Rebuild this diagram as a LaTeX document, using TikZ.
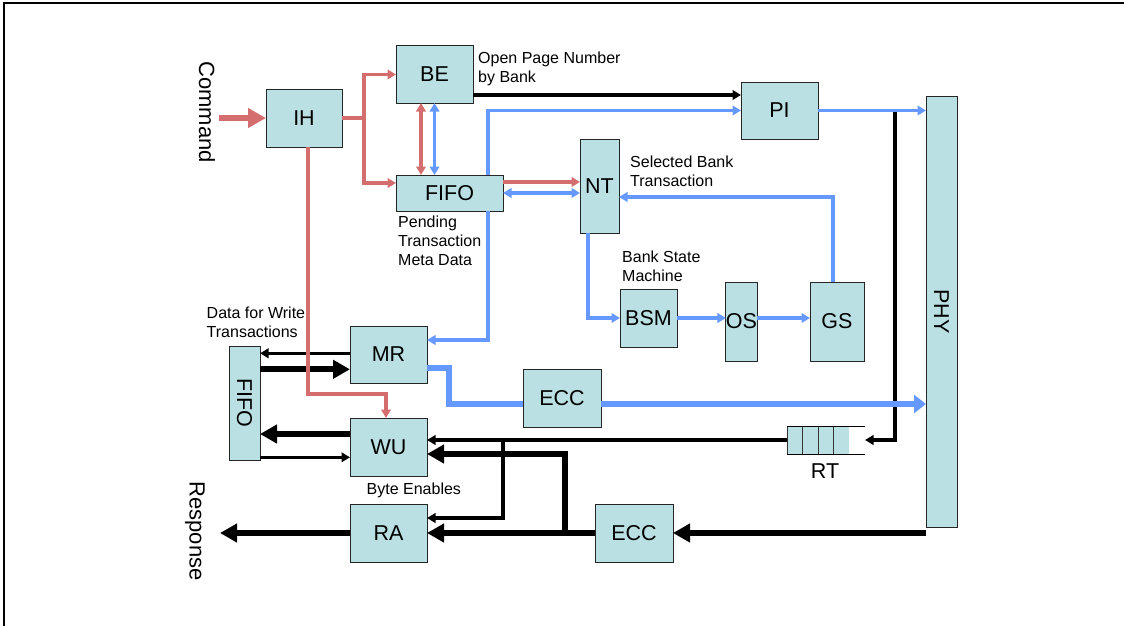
\documentclass[tikz,border=0pt]{standalone}
\usepackage{fontspec}
\setmainfont{Liberation Sans}
\usepackage{graphicx}
\usetikzlibrary{arrows.meta,calc}
\definecolor{boxfill}{RGB}{186,224,227}
\definecolor{redc}{RGB}{212,110,110}
\definecolor{bluec}{RGB}{102,153,255}
\begin{document}
\begin{tikzpicture}[x=1pt,y=-1pt,
  box/.style={draw=black!85, line width=1pt, fill=boxfill, inner sep=0pt, outer sep=0pt, font=\fontsize{21.5}{25}\selectfont},
  lbl/.style={font=\fontsize{16}{19}\selectfont, align=left, inner sep=0pt, anchor=north west},
  big/.style={font=\fontsize{22}{26}\selectfont, inner sep=0pt, rotate=-90},
  tipS/.style={-{Triangle[length=8.5pt,width=9.5pt]}},
  dbl/.style={{Triangle[length=8.5pt,width=9.5pt]}-{Triangle[length=8.5pt,width=9.5pt]}},
  tn/.style={draw=black, line width=3.2pt, tipS},
  tk/.style={draw=black, line width=6.3pt, -{Triangle[length=17pt,width=18pt]}},
  rd/.style={draw=redc, line width=3.3pt},
  bl/.style={draw=bluec, line width=3.3pt},
  bk/.style={draw=bluec, line width=6pt},
]
\useasboundingbox (0,0) rectangle (1124,626);
% frame
\draw[line width=2pt] (3.5,626) -- (3.5,3.5) -- (1124,3.5);

% boxes
\node[box, minimum width=76pt, minimum height=58pt] (IH) at (304,118) {IH};
\node[box, minimum width=77pt, minimum height=57pt] (BE) at (434.5,74.5) {BE};
\node[box, minimum width=107pt, minimum height=36pt] (FIFO1) at (449.5,193) {FIFO};
\node[box, minimum width=77pt, minimum height=57pt] (PI) at (779.5,110.5) {PI};
\node[box, minimum width=39pt, minimum height=94pt] (NT) at (599.5,186) {NT};
\node[box, minimum width=57pt, minimum height=58pt] (BSM) at (648.5,318) {BSM};
\node[box, minimum width=31pt, minimum height=79pt] (OS) at (741.5,321.5) {OS};
\node[box, minimum width=54pt, minimum height=79pt] (GS) at (837,321.5) {GS};
\node[box, minimum width=31pt, minimum height=431pt] (PHY) at (941.5,311.5) {\rotatebox{-90}{PHY}};
\node[box, minimum width=78pt, minimum height=58pt] (ECC1) at (562,398) {ECC};
\node[box, minimum width=77pt, minimum height=57pt] (MR) at (388.5,354.5) {MR};
\node[box, minimum width=77pt, minimum height=58pt] (WU) at (388.5,447) {WU};
\node[box, minimum width=31pt, minimum height=114pt] (FIFO2) at (244.5,403) {\rotatebox{-90}{FIFO}};
\node[box, minimum width=77pt, minimum height=58pt] (RA) at (388.5,533) {RA};
\node[box, minimum width=78pt, minimum height=58pt] (ECC2) at (634,533) {ECC};

% RT queue
\node[inner sep=0pt, outer sep=0pt, minimum width=78pt, minimum height=28pt] (RT) at (826,440) {};
\fill[boxfill] (RT.north west) rectangle ($(RT.south east)+(-16,0)$);
\draw[black!80, line width=1pt] (RT.north west) -- (RT.south west)
  ($(RT.north west)+(15.5,0)$) -- ($(RT.south west)+(15.5,0)$)
  ($(RT.north west)+(31,0)$) -- ($(RT.south west)+(31,0)$)
  ($(RT.north west)+(46.5,0)$) -- ($(RT.south west)+(46.5,0)$);
\draw[black, line width=1pt] (RT.north west) -- (RT.north east) (RT.south west) -- (RT.south east);
\node[font=\fontsize{21.5}{25}\selectfont, inner sep=0pt] (lRT) at (825,471) {RT};

% labels
\node[big] (cmdtxt) at (207,112) {Command};
\node[big] (resptxt) at (195,531) {Response};
\node[lbl] (lOpen) at (478,51.5) {Open Page Number\\by Bank};
\node[lbl] (lPend) at (398,215.5) {Pending\\Transaction\\Meta Data};
\node[lbl] (lSel) at (630,155.5) {Selected Bank\\Transaction};
\node[lbl] (lBSM) at (622,251) {Bank State\\Machine};
\node[lbl] (lData) at (206.5,306.5) {Data for Write\\Transactions};
\node[lbl] (lByte) at (366.5,482.5) {Byte Enables};

% Command input
\coordinate (cmd) at (219,118);
\draw[draw=redc, line width=6pt, -{Triangle[length=18pt,width=19pt]}] (cmd) -- (IH.west);

% IH to BE / FIFO
\draw[rd] (IH.east) -- ++(22,0) coordinate (sp);
\draw[rd,tipS] (sp) |- (BE.west);
\draw[rd,tipS] (sp) |- ($(FIFO1.west)+(0,-10)$);

% BE <-> FIFO
\draw[rd,dbl] ($(BE.south)+(-13.5,0)$) -- ($(FIFO1.north)+(-28.5,0)$);
\draw[bl,dbl] (BE.south) -- (BE.south |- FIFO1.north);

% BE -> PI
\coordinate (beo) at ($(BE.east)+(0,20.5)$);
\draw[tn] (beo) -- (beo -| PI.west);

% FIFO -> PI, FIFO -> MR
\draw[bl,tipS] ($(FIFO1.north)+(38.5,0)$) |- (PI.west);
\draw[bl,tipS] ($(FIFO1.south)+(38.5,0)$) |- ($(MR.east)+(0,-14.5)$);

% RT feed from PHY side
\coordinate (tapA) at (895,110.5);
\draw[tn] (tapA) |- (RT.east);

% PI -> PHY
\draw[bl,tipS] (PI.east) -- (PI.east -| PHY.west);

% FIFO -> NT
\coordinate (fn) at ($(FIFO1.east)+(0,-11)$);
\draw[rd,tipS] (fn) -- (fn -| NT.west);
\draw[bl,dbl] (FIFO1.east) -- (FIFO1.east -| NT.west);

% GS -> NT
\coordinate (nte) at ($(NT.east)+(0,11)$);
\draw[bl,tipS] ($(GS.north)+(-4,0)$) |- (nte);

% NT -> BSM -> OS -> GS
\draw[bl,tipS] ($(NT.south)+(-11.5,0)$) |- (BSM.west);
\draw[bl,tipS] (BSM.east) -- (BSM.east -| OS.west);
\draw[bl,tipS] (BSM.east -| OS.east) -- (BSM.east -| GS.west);

% MR -> ECC -> PHY
\draw[bk] ($(MR.east)+(0,13.5)$) -- ++(22,0) |- ($(ECC1.west)+(0,6)$);
\coordinate (ecco) at ($(ECC1.east)+(0,6)$);
\draw[bk, -{Triangle[length=12pt,width=18pt]}] (ecco) -- (ecco -| PHY.west);

% FIFO2 <-> MR
\coordinate (mrA) at ($(MR.west)+(0,-1.2)$);
\draw[tn] (mrA) -- (mrA -| FIFO2.east);
\coordinate (mrB) at ($(MR.west)+(0,14.8)$);
\draw[tk] (mrB -| FIFO2.east) -- (mrB);

% FIFO2 <-> WU
\coordinate (wuA) at ($(WU.west)+(0,-13)$);
\draw[tk] (wuA) -- (wuA -| FIFO2.east);
\coordinate (wuB) at ($(WU.west)+(0,10.3)$);
\draw[tn] (wuB -| FIFO2.east) -- (wuB);

% IH -> WU (red)
\draw[rd,tipS] ($(IH.south)+(4,0)$) -- ++(0,247) -| ($(WU.north)+(-2.5,0)$);

% RT -> WU, RA
\draw[tn] (RT.west) -- (RT.west -| WU.east);
\coordinate (tapB) at (503,440);
\draw[tn] (tapB) |- ($(RA.east)+(0,-15)$);

% ECC2 -> RA, WU
\draw[tk] (ECC2.west) -- (RA.east);
\coordinate (tapC) at (565,533);
\draw[tk] (tapC) |- ($(WU.east)+(0,7)$);

% PHY -> ECC2
\draw[tk] (ECC2.east -| PHY.west) -- (ECC2.east);

% RA -> Response
\coordinate (resp) at (220,533);
\draw[tk] (RA.west) -- (resp);
\end{tikzpicture}
\end{document}
